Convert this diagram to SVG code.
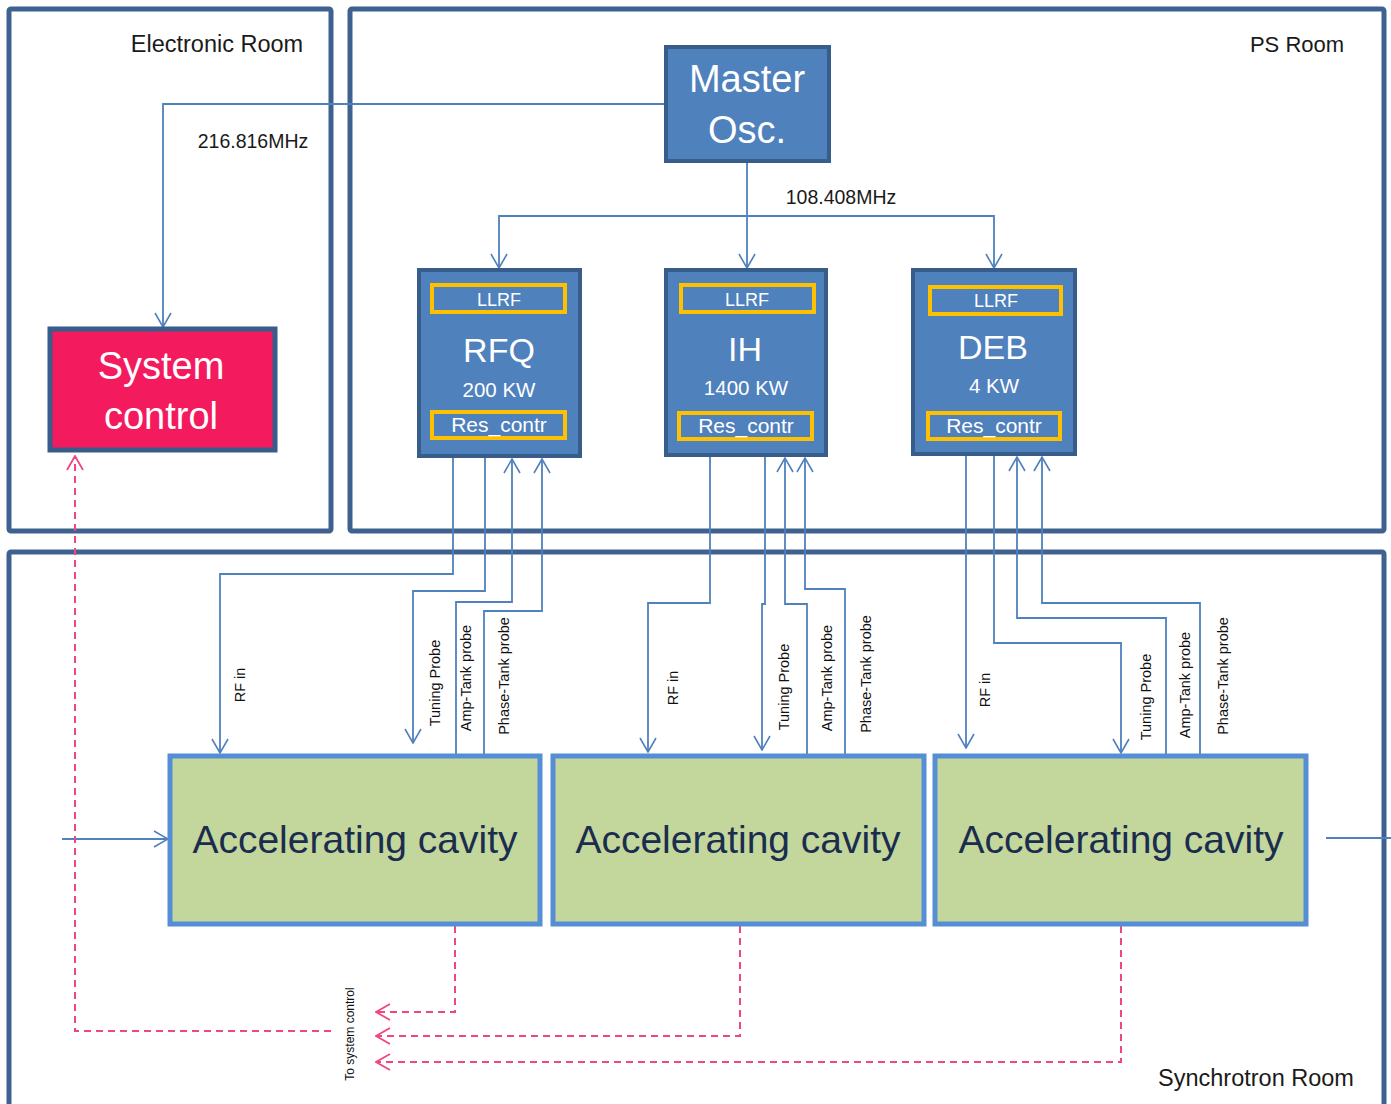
<svg xmlns="http://www.w3.org/2000/svg" width="1391" height="1104" viewBox="0 0 1391 1104">
<defs>
<marker id="arr" viewBox="0 0 16 18" refX="15" refY="9" markerWidth="16" markerHeight="18" markerUnits="userSpaceOnUse" orient="auto">
<path d="M1,1 L15,9 L1,17" fill="none" stroke="#4F81BD" stroke-width="1.6"/>
</marker>
<marker id="arrp" viewBox="0 0 16 18" refX="15" refY="9" markerWidth="16" markerHeight="18" markerUnits="userSpaceOnUse" orient="auto">
<path d="M1,1 L15,9 L1,17" fill="none" stroke="#F0477E" stroke-width="1.8"/>
</marker>
</defs>
<style>
text{font-family:"Liberation Sans",Arial,sans-serif}
.room{fill:none;stroke:#3E618F;stroke-width:5}
.rlab{font-size:22px;fill:#1a1a1a;text-anchor:middle}
.freq{font-size:19.5px;fill:#1a1a1a;text-anchor:middle}
.box{fill:#4F81BD;stroke:#385D8A;stroke-width:4}
.sub{fill:#4F81BD;stroke:#FFC000;stroke-width:4}
.wt{fill:#ffffff;text-anchor:middle}
.cav{fill:#C3D69B;stroke:#558ED5;stroke-width:5}
.cavt{font-size:39px;fill:#1B2D4F;text-anchor:middle}
.ln{fill:none;stroke:#4F81BD;stroke-width:1.8}
.pk{fill:none;stroke:#F0477E;stroke-width:2;stroke-dasharray:7 5}
.lab{font-size:14.5px;fill:#111;text-anchor:middle;dominant-baseline:central}
</style>
<rect width="1391" height="1104" fill="#ffffff"/>
<g id="electronic-room">
<rect class="room" x="9" y="9" width="322" height="522" rx="2"/>
<text class="rlab" x="217" y="52" style="font-size:23.5px">Electronic Room</text>
</g>
<g id="ps-room">
<rect class="room" x="350" y="9" width="1034" height="522" rx="2"/>
<text class="rlab" x="1297" y="52">PS Room</text>
</g>
<g id="synchrotron-room">
<rect class="room" x="9" y="552" width="1375" height="570" rx="2"/>
<text class="rlab" x="1256" y="1086" style="font-size:23.5px">Synchrotron Room</text>
</g>
<g id="connectors">
<path class="ln" d="M666,104 H163 V327" marker-end="url(#arr)"/>
<path class="ln" d="M747,161 V268" marker-end="url(#arr)"/>
<path class="ln" d="M747,216 H499 V268" marker-end="url(#arr)"/>
<path class="ln" d="M747,216 H994 V268" marker-end="url(#arr)"/>
<path class="ln" d="M453,457 V574 H220 V753" marker-end="url(#arr)"/>
<path class="ln" d="M485,457 V591 H413 V743" marker-end="url(#arr)"/>
<path class="ln" d="M456,754 V602 H512 V459" marker-end="url(#arr)"/>
<path class="ln" d="M484,754 V611 H542 V459" marker-end="url(#arr)"/>
<path class="ln" d="M710,456 V603 H648 V752" marker-end="url(#arr)"/>
<path class="ln" d="M765,456 V604 H762 V750" marker-end="url(#arr)"/>
<path class="ln" d="M807,754 V604 H785 V458" marker-end="url(#arr)"/>
<path class="ln" d="M845,754 V589 H805 V458" marker-end="url(#arr)"/>
<path class="ln" d="M966,455 V748" marker-end="url(#arr)"/>
<path class="ln" d="M994,455 V643 H1121 V753" marker-end="url(#arr)"/>
<path class="ln" d="M1166,754 V618 H1017 V457" marker-end="url(#arr)"/>
<path class="ln" d="M1200,754 V603 H1042 V457" marker-end="url(#arr)"/>
<path class="ln" d="M62,839 H168" marker-end="url(#arr)"/>
<path class="ln" d="M1326,838 H1391"/>
<path class="pk" d="M331,1031 H75 V456" marker-end="url(#arrp)"/>
<path class="pk" d="M455,926 V1012 H376" marker-end="url(#arrp)"/>
<path class="pk" d="M740,926 V1036 H376" marker-end="url(#arrp)"/>
<path class="pk" d="M1121,926 V1062 H376" marker-end="url(#arrp)"/>
<text class="freq" x="253" y="148">216.816MHz</text>
<text class="freq" x="841" y="204">108.408MHz</text>
<text class="lab" x="240" y="685" transform="rotate(-90 240 685)">RF in</text>
<text class="lab" x="435" y="683" transform="rotate(-90 435 683)">Tuning Probe</text>
<text class="lab" x="466" y="678" transform="rotate(-90 466 678)">Amp-Tank probe</text>
<text class="lab" x="504" y="676" transform="rotate(-90 504 676)">Phase-Tank probe</text>
<text class="lab" x="673" y="688" transform="rotate(-90 673 688)">RF in</text>
<text class="lab" x="784" y="687" transform="rotate(-90 784 687)">Tuning Probe</text>
<text class="lab" x="827" y="678" transform="rotate(-90 827 678)">Amp-Tank probe</text>
<text class="lab" x="866" y="674" transform="rotate(-90 866 674)">Phase-Tank probe</text>
<text class="lab" x="985" y="690" transform="rotate(-90 985 690)">RF in</text>
<text class="lab" x="1146" y="697" transform="rotate(-90 1146 697)">Tuning Probe</text>
<text class="lab" x="1185" y="685" transform="rotate(-90 1185 685)">Amp-Tank probe</text>
<text class="lab" x="1223" y="676" transform="rotate(-90 1223 676)">Phase-Tank probe</text>
<text class="lab" x="350" y="1034" style="font-size:12px" transform="rotate(-90 350 1034)">To system control</text>
</g>
<g id="system-control">
<rect x="50" y="329" width="225" height="121" fill="#F31A5D" stroke="#385D8A" stroke-width="5"/>
<text class="wt" x="161" y="379" style="font-size:38px">System</text>
<text class="wt" x="161" y="429" style="font-size:38px">control</text>
</g>
<g id="master-osc">
<rect class="box" x="666" y="47" width="163" height="114"/>
<text class="wt" x="747" y="92" style="font-size:38px">Master</text>
<text class="wt" x="747" y="143" style="font-size:38px">Osc.</text>
</g>
<g id="rfq">
<rect class="box" x="419" y="270" width="161" height="186"/>
<rect class="sub" x="432" y="285" width="133" height="27"/>
<text class="wt" x="499" y="306" style="font-size:18px">LLRF</text>
<text class="wt" x="499" y="362" style="font-size:34px">RFQ</text>
<text class="wt" x="499" y="397" style="font-size:20.5px">200 KW</text>
<rect class="sub" x="432" y="412" width="133" height="26"/>
<text class="wt" x="499" y="432" style="font-size:21px">Res_contr</text>
</g>
<g id="ih">
<rect class="box" x="666" y="270" width="160" height="185"/>
<rect class="sub" x="681" y="285" width="133" height="27"/>
<text class="wt" x="747" y="306" style="font-size:18px">LLRF</text>
<text class="wt" x="745" y="361" style="font-size:34px">IH</text>
<text class="wt" x="746" y="395" style="font-size:20.5px">1400 KW</text>
<rect class="sub" x="679" y="413" width="133" height="26"/>
<text class="wt" x="746" y="433" style="font-size:21px">Res_contr</text>
</g>
<g id="deb">
<rect class="box" x="913" y="270" width="162" height="184"/>
<rect class="sub" x="930" y="287" width="131" height="27"/>
<text class="wt" x="996" y="307" style="font-size:18px">LLRF</text>
<text class="wt" x="993" y="359" style="font-size:34px">DEB</text>
<text class="wt" x="994" y="393" style="font-size:20.5px">4 KW</text>
<rect class="sub" x="928" y="413" width="132" height="26"/>
<text class="wt" x="994" y="433" style="font-size:21px">Res_contr</text>
</g>
<g id="cavity-1">
<rect class="cav" x="170" y="756" width="370" height="168"/>
<text class="cavt" x="355" y="853">Accelerating cavity</text>
</g>
<g id="cavity-2">
<rect class="cav" x="553" y="756" width="371" height="168"/>
<text class="cavt" x="738" y="853">Accelerating cavity</text>
</g>
<g id="cavity-3">
<rect class="cav" x="935" y="756" width="371" height="168"/>
<text class="cavt" x="1121" y="853">Accelerating cavity</text>
</g>
</svg>
